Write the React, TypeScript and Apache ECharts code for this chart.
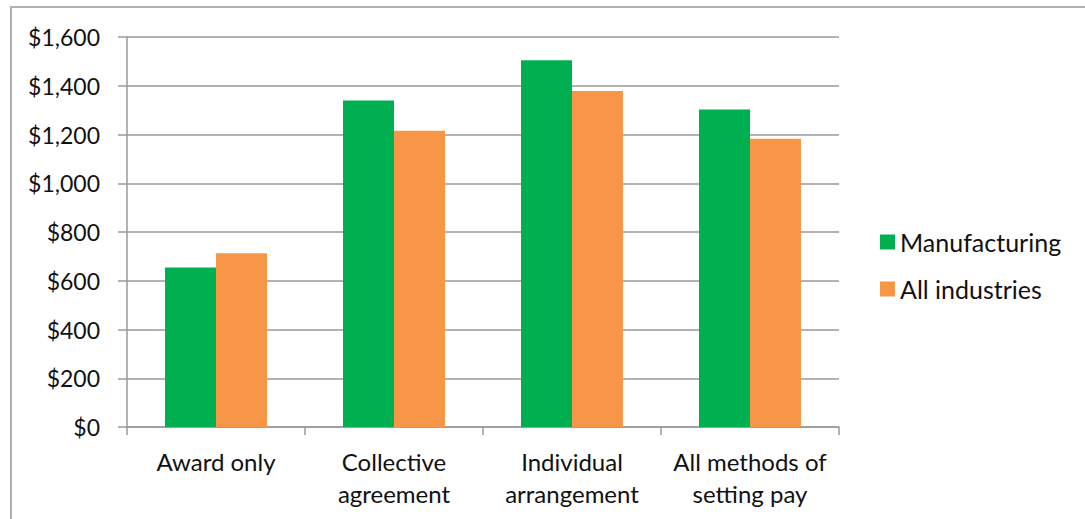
import React, { useEffect, useRef } from "react";
import * as echarts from "echarts";

const categories = ["Award only", "Collective\nagreement", "Individual\narrangement", "All methods of\nsetting pay"];
const manufacturing = [654, 1340, 1505, 1303];
const allIndustries = [713, 1215, 1378, 1183];
const yTicks = { min: 0, max: 1600, interval: 200 };

const FONT = "Lato";

export default function App() {
  const ref = useRef<HTMLDivElement>(null);
  useEffect(() => {
    if (!ref.current) return;
    const chart = echarts.init(ref.current, undefined, { renderer: "svg" });
    const fmt = (v: number) => "$" + v.toLocaleString("en-US");
    chart.setOption({
      animation: false,
      backgroundColor: "#ffffff",
      textStyle: { fontFamily: FONT },
      graphic: [
        {
          type: "rect",
          shape: { x: 11, y: 7, width: 1200, height: 700 },
          style: { fill: "none", stroke: "#b0b0b0", lineWidth: 2 },
          silent: true,
        },
      ],
      grid: { left: 127, right: 246, top: 37, bottom: 92, containLabel: false },
      legend: {
        orient: "vertical",
        left: 880,
        top: 229,
        padding: 0,
        itemWidth: 15,
        itemHeight: 15,
        itemGap: 21,
        icon: "rect",
        textStyle: { fontFamily: FONT, fontSize: 25, color: "#111111", lineHeight: 26, padding: [0, 0, 0, 0] },
        data: ["Manufacturing", "All industries"],
      },
      xAxis: {
        type: "category",
        data: categories,
        axisLine: { show: true, lineStyle: { color: "#9a9a9a", width: 1.5 } },
        axisTick: { show: true, length: 8, lineStyle: { color: "#9a9a9a", width: 1.5 } },
        axisLabel: { fontFamily: FONT, fontSize: 24, color: "#111111", margin: 18, lineHeight: 32, interval: 0 },
      },
      yAxis: {
        type: "value",
        min: yTicks.min,
        max: yTicks.max,
        interval: yTicks.interval,
        axisLine: { show: true, lineStyle: { color: "#9a9a9a", width: 1.5 } },
        axisTick: { show: true, length: 9, lineStyle: { color: "#9a9a9a", width: 1.5 } },
        splitLine: { show: true, lineStyle: { color: "#9a9a9a", width: 1.5 } },
        axisLabel: { fontFamily: FONT, fontSize: 23, color: "#111111", margin: 27, formatter: fmt },
      },
      series: [
        {
          name: "Manufacturing",
          type: "bar",
          data: manufacturing,
          itemStyle: { color: "#00B050" },
          barWidth: 51,
          barGap: "0%",
        },
        {
          name: "All industries",
          type: "bar",
          data: allIndustries,
          itemStyle: { color: "#F79646" },
          barWidth: 51,
          barGap: "0%",
        },
      ],
    });
    return () => chart.dispose();
  }, []);
  return <div ref={ref} style={{ position: "fixed", left: 0, top: 0, width: 1085, height: 519 }} />;
}
